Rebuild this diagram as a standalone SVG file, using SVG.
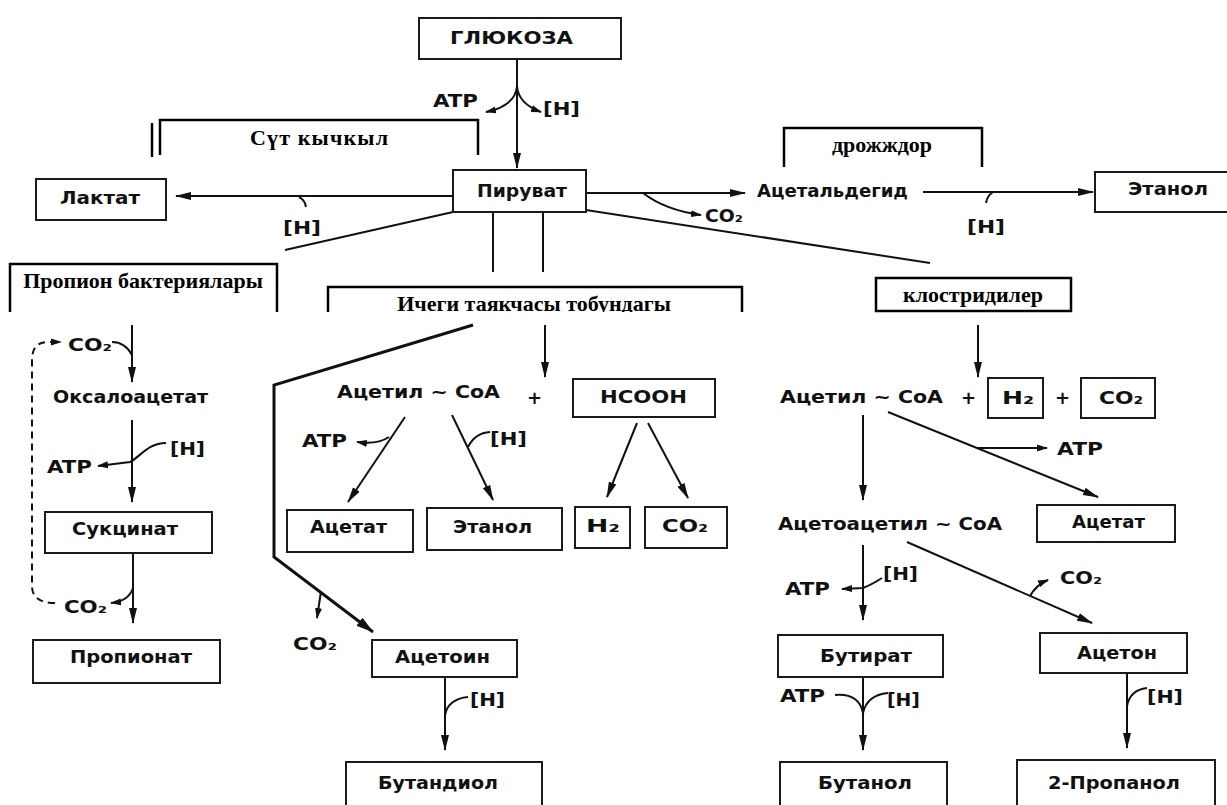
<svg xmlns="http://www.w3.org/2000/svg" width="1227" height="805" viewBox="0 0 1227 805">
<style>
.bx{fill:#fff;stroke:#1a1a1a;stroke-width:2}
.lb{fill:none;stroke:#000;stroke-width:2.5}
.t{font-family:"DejaVu Sans",sans-serif;font-weight:bold;font-size:18px;fill:#111}
.s{font-family:"DejaVu Sans",sans-serif;font-weight:bold;font-size:17px;fill:#111}
.L{font-family:"Liberation Serif",serif;font-weight:bold;font-size:22px;fill:#000;text-anchor:middle}
.c{fill:none;stroke:#111;stroke-width:2}
.ca{fill:none;stroke:#111;stroke-width:2;marker-end:url(#a)}
.cs{fill:none;stroke:#111;stroke-width:2;marker-end:url(#sm)}
.dash{fill:none;stroke:#111;stroke-width:2;stroke-dasharray:7 5;marker-end:url(#sm)}
</style>
<defs>
<marker id="a" viewBox="0 0 16 9" refX="15" refY="4.5" markerWidth="16" markerHeight="9" markerUnits="userSpaceOnUse" orient="auto"><path d="M0,0.5 L16,4.5 L0,8.5 Z" fill="#111"/></marker>
<marker id="sm" viewBox="0 0 11 8" refX="10" refY="4" markerWidth="11" markerHeight="8" markerUnits="userSpaceOnUse" orient="auto"><path d="M0,0.5 L11,4 L0,7.5 Z" fill="#111"/></marker>
<marker id="b" viewBox="0 0 18 11" refX="17" refY="5.5" markerWidth="18" markerHeight="11" markerUnits="userSpaceOnUse" orient="auto"><path d="M0,0.5 L18,5.5 L0,10.5 Z" fill="#111"/></marker>
<clipPath id="clipI"><rect x="320" y="280" width="430" height="32"/></clipPath>
</defs>
<rect width="1227" height="805" fill="#fff"/>

<g id="connectors">
<line class="ca" x1="517" y1="59" x2="517" y2="168"/>
<path class="cs" d="M517,86 C516,100 505,108 486,112"/>
<path class="cs" d="M517,86 C518,100 530,108 541,112"/>
<line class="ca" x1="453" y1="196" x2="176" y2="196"/>
<path class="c" d="M299,197 Q305,200 306,207"/>
<line class="c" x1="453" y1="212" x2="285" y2="250"/>
<line class="c" x1="493" y1="212" x2="493" y2="272"/>
<line class="c" x1="543" y1="212" x2="543" y2="272"/>
<line class="ca" x1="586" y1="193" x2="745" y2="193"/>
<path class="cs" d="M643,193 Q665,210 701,215"/>
<line class="c" x1="586" y1="210" x2="930" y2="263"/>
<line class="ca" x1="923" y1="192" x2="1093" y2="192"/>
<path class="c" d="M993,192 Q987,196 986,203"/>
<line class="ca" x1="132" y1="325" x2="132" y2="382"/>
<path class="c" d="M112,342 Q125,342 132,355"/>
<path class="dash" d="M55,603 Q32,603 32,586 L32,360 Q32,342 48,342 L61,342"/>
<line class="ca" x1="132" y1="420" x2="132" y2="502"/>
<path class="cs" d="M166,443 C148,443 140,457 130,462 L98,466"/>
<line class="ca" x1="133" y1="553" x2="133" y2="623"/>
<path class="cs" d="M133,588 Q129,601 111,603"/>
<path fill="none" stroke="#111" stroke-width="3" marker-end="url(#b)" d="M473,325 L274,385 L274,557 L373,632"/>
<path class="cs" d="M321,591 Q319,605 317,618"/>
<line class="ca" x1="445" y1="677" x2="445" y2="750"/>
<path class="c" d="M468,697 C455,698 446,705 445,716"/>
<line class="ca" x1="545" y1="325" x2="545" y2="377"/>
<line class="ca" x1="405" y1="417" x2="348" y2="502"/>
<path class="cs" d="M389,437 Q377,445 357,442"/>
<line class="ca" x1="452" y1="415" x2="493" y2="500"/>
<path class="c" d="M490,432 Q475,433 468,447"/>
<line class="ca" x1="637" y1="423" x2="607" y2="497"/>
<line class="ca" x1="648" y1="423" x2="688" y2="498"/>
<line class="ca" x1="978" y1="325" x2="978" y2="377"/>
<line class="ca" x1="863" y1="415" x2="863" y2="500"/>
<line class="ca" x1="888" y1="412" x2="1098" y2="497"/>
<line class="cs" x1="977" y1="448" x2="1047" y2="448"/>
<line class="ca" x1="863" y1="545" x2="863" y2="620"/>
<path class="cs" d="M882,578 Q871,585 863,588 L842,589"/>
<line class="ca" x1="907" y1="542" x2="1092" y2="623"/>
<path class="cs" d="M1030,596 Q1036,585 1048,580"/>
<line class="ca" x1="863" y1="677" x2="863" y2="750"/>
<path class="c" d="M835,695 Q859,693 863,713"/>
<path class="c" d="M888,693 Q867,695 863,713"/>
<line class="ca" x1="1127" y1="673" x2="1127" y2="748"/>
<path class="c" d="M1147,688 Q1130,690 1127,706"/>
</g>

<g id="side-labels">
<text class="s" x="433" y="107" textLength="45" lengthAdjust="spacingAndGlyphs">ATP</text>
<text class="s" x="543" y="115" textLength="37" lengthAdjust="spacingAndGlyphs">[H]</text>
<text class="s" x="283" y="234" textLength="38" lengthAdjust="spacingAndGlyphs">[H]</text>
<text class="s" x="705" y="222" textLength="38" lengthAdjust="spacingAndGlyphs">CO₂</text>
<text class="s" x="967" y="233" textLength="38" lengthAdjust="spacingAndGlyphs">[H]</text>
<text class="s" x="68" y="351" textLength="44" lengthAdjust="spacingAndGlyphs">CO₂</text>
<text class="s" x="170" y="455" textLength="35" lengthAdjust="spacingAndGlyphs">[H]</text>
<text class="s" x="47" y="473" textLength="45" lengthAdjust="spacingAndGlyphs">ATP</text>
<text class="s" x="64" y="613" textLength="43" lengthAdjust="spacingAndGlyphs">CO₂</text>
<text class="s" x="302" y="447" textLength="45" lengthAdjust="spacingAndGlyphs">ATP</text>
<text class="s" x="490" y="445" textLength="37" lengthAdjust="spacingAndGlyphs">[H]</text>
<text class="s" x="293" y="650" textLength="44" lengthAdjust="spacingAndGlyphs">CO₂</text>
<text class="s" x="470" y="706" textLength="35" lengthAdjust="spacingAndGlyphs">[H]</text>
<text class="s" x="1057" y="455" textLength="46" lengthAdjust="spacingAndGlyphs">ATP</text>
<text class="s" x="883" y="580" textLength="35" lengthAdjust="spacingAndGlyphs">[H]</text>
<text class="s" x="785" y="595" textLength="45" lengthAdjust="spacingAndGlyphs">ATP</text>
<text class="s" x="1060" y="584" textLength="42" lengthAdjust="spacingAndGlyphs">CO₂</text>
<text class="s" x="780" y="702" textLength="45" lengthAdjust="spacingAndGlyphs">ATP</text>
<text class="s" x="887" y="706" textLength="33" lengthAdjust="spacingAndGlyphs">[H]</text>
<text class="s" x="1147" y="703" textLength="36" lengthAdjust="spacingAndGlyphs">[H]</text>
</g>

<g id="glucose"><rect class="bx" x="419" y="18" width="202" height="41"/><text class="t" x="450" y="44" textLength="123" lengthAdjust="spacingAndGlyphs">ГЛЮКОЗА</text></g>
<g id="pyruvate"><rect class="bx" x="453" y="170" width="133" height="42"/><text class="t" x="477" y="197" textLength="90" lengthAdjust="spacingAndGlyphs">Пируват</text></g>
<g id="lactate"><rect class="bx" x="36" y="179" width="130" height="41"/><text class="t" x="60" y="204" textLength="80" lengthAdjust="spacingAndGlyphs">Лактат</text></g>
<g id="acetaldehyde"><text class="t" x="757" y="197" textLength="151" lengthAdjust="spacingAndGlyphs">Ацетальдегид</text></g>
<g id="ethanol-yeast"><rect class="bx" x="1095" y="172" width="150" height="40"/><text class="t" x="1128" y="195" textLength="80" lengthAdjust="spacingAndGlyphs">Этанол</text></g>

<g id="oxaloacetate"><text class="t" x="53" y="403" textLength="155" lengthAdjust="spacingAndGlyphs">Оксалоацетат</text></g>
<g id="succinate"><rect class="bx" x="45" y="512" width="167" height="41"/><text class="t" x="72" y="535" textLength="106" lengthAdjust="spacingAndGlyphs">Сукцинат</text></g>
<g id="propionate"><rect class="bx" x="33" y="640" width="187" height="43"/><text class="t" x="70" y="663" textLength="122" lengthAdjust="spacingAndGlyphs">Пропионат</text></g>

<g id="acetylcoa-coli"><text class="t" x="337" y="398" textLength="163" lengthAdjust="spacingAndGlyphs">Ацетил ~ CoA</text><text class="t" x="527" y="404">+</text></g>
<g id="hcooh"><rect class="bx" x="573" y="379" width="142" height="38"/><text class="t" x="600" y="403" textLength="87" lengthAdjust="spacingAndGlyphs">HCOOH</text></g>
<g id="acetate-coli"><rect class="bx" x="287" y="510" width="126" height="42"/><text class="t" x="310" y="533" textLength="77" lengthAdjust="spacingAndGlyphs">Ацетат</text></g>
<g id="ethanol-coli"><rect class="bx" x="427" y="508" width="135" height="42"/><text class="t" x="453" y="533" textLength="79" lengthAdjust="spacingAndGlyphs">Этанол</text></g>
<g id="h2-coli"><rect class="bx" x="575" y="507" width="55" height="41"/><text class="t" x="586" y="532" textLength="34" lengthAdjust="spacingAndGlyphs">H₂</text></g>
<g id="co2-coli"><rect class="bx" x="645" y="507" width="82" height="41"/><text class="t" x="662" y="532" textLength="46" lengthAdjust="spacingAndGlyphs">CO₂</text></g>
<g id="acetoin"><rect class="bx" x="372" y="640" width="145" height="37"/><text class="t" x="395" y="663" textLength="95" lengthAdjust="spacingAndGlyphs">Ацетоин</text></g>
<g id="butanediol"><rect class="bx" x="346" y="762" width="196" height="50"/><text class="t" x="378" y="789" textLength="120" lengthAdjust="spacingAndGlyphs">Бутандиол</text></g>

<g id="acetylcoa-clos"><text class="t" x="780" y="403" textLength="163" lengthAdjust="spacingAndGlyphs">Ацетил ~ CoA</text><text class="t" x="961" y="404">+</text><text class="t" x="1055" y="404">+</text></g>
<g id="h2-clos"><rect class="bx" x="988" y="378" width="55" height="40"/><text class="t" x="1002" y="404" textLength="32" lengthAdjust="spacingAndGlyphs">H₂</text></g>
<g id="co2-clos"><rect class="bx" x="1081" y="378" width="74" height="40"/><text class="t" x="1099" y="404" textLength="44" lengthAdjust="spacingAndGlyphs">CO₂</text></g>
<g id="acetate-clos"><rect class="bx" x="1037" y="505" width="138" height="37"/><text class="t" x="1072" y="528" textLength="73" lengthAdjust="spacingAndGlyphs">Ацетат</text></g>
<g id="acetoacetylcoa"><text class="t" x="778" y="530" textLength="224" lengthAdjust="spacingAndGlyphs">Ацетоацетил ~ CoA</text></g>
<g id="butyrate"><rect class="bx" x="778" y="635" width="165" height="42"/><text class="t" x="820" y="662" textLength="92" lengthAdjust="spacingAndGlyphs">Бутират</text></g>
<g id="butanol"><rect class="bx" x="780" y="762" width="167" height="50"/><text class="t" x="818" y="789" textLength="94" lengthAdjust="spacingAndGlyphs">Бутанол</text></g>
<g id="acetone"><rect class="bx" x="1040" y="633" width="147" height="40"/><text class="t" x="1077" y="659" textLength="80" lengthAdjust="spacingAndGlyphs">Ацетон</text></g>
<g id="propanol"><rect class="bx" x="1017" y="760" width="198" height="50"/><text class="t" x="1048" y="789" textLength="132" lengthAdjust="spacingAndGlyphs">2-Пропанол</text></g>

<g id="label-lactic"><path class="lb" d="M160,155 V120 H478 V155"/><line class="lb" x1="152" y1="123" x2="152" y2="157"/><text class="L" x="319" y="145" textLength="138">Сүт кычкыл</text></g>
<g id="label-yeast"><path class="lb" d="M784,167 V128 H982 V167"/><text class="L" x="882" y="152">дрожждор</text></g>
<g id="label-propion"><path class="lb" d="M10,312 V264 H277 V312"/><text class="L" x="143" y="288">Пропион бактериялары</text></g>
<g id="label-coli"><path class="lb" d="M328,312 V287 H742 V312"/><text class="L" x="534" y="311" clip-path="url(#clipI)">Ичеги таякчасы тобундагы</text></g>
<g id="label-clos"><rect class="lb" x="876" y="278" width="195" height="33"/><text class="L" x="973" y="302">клостридилер</text></g>
</svg>
